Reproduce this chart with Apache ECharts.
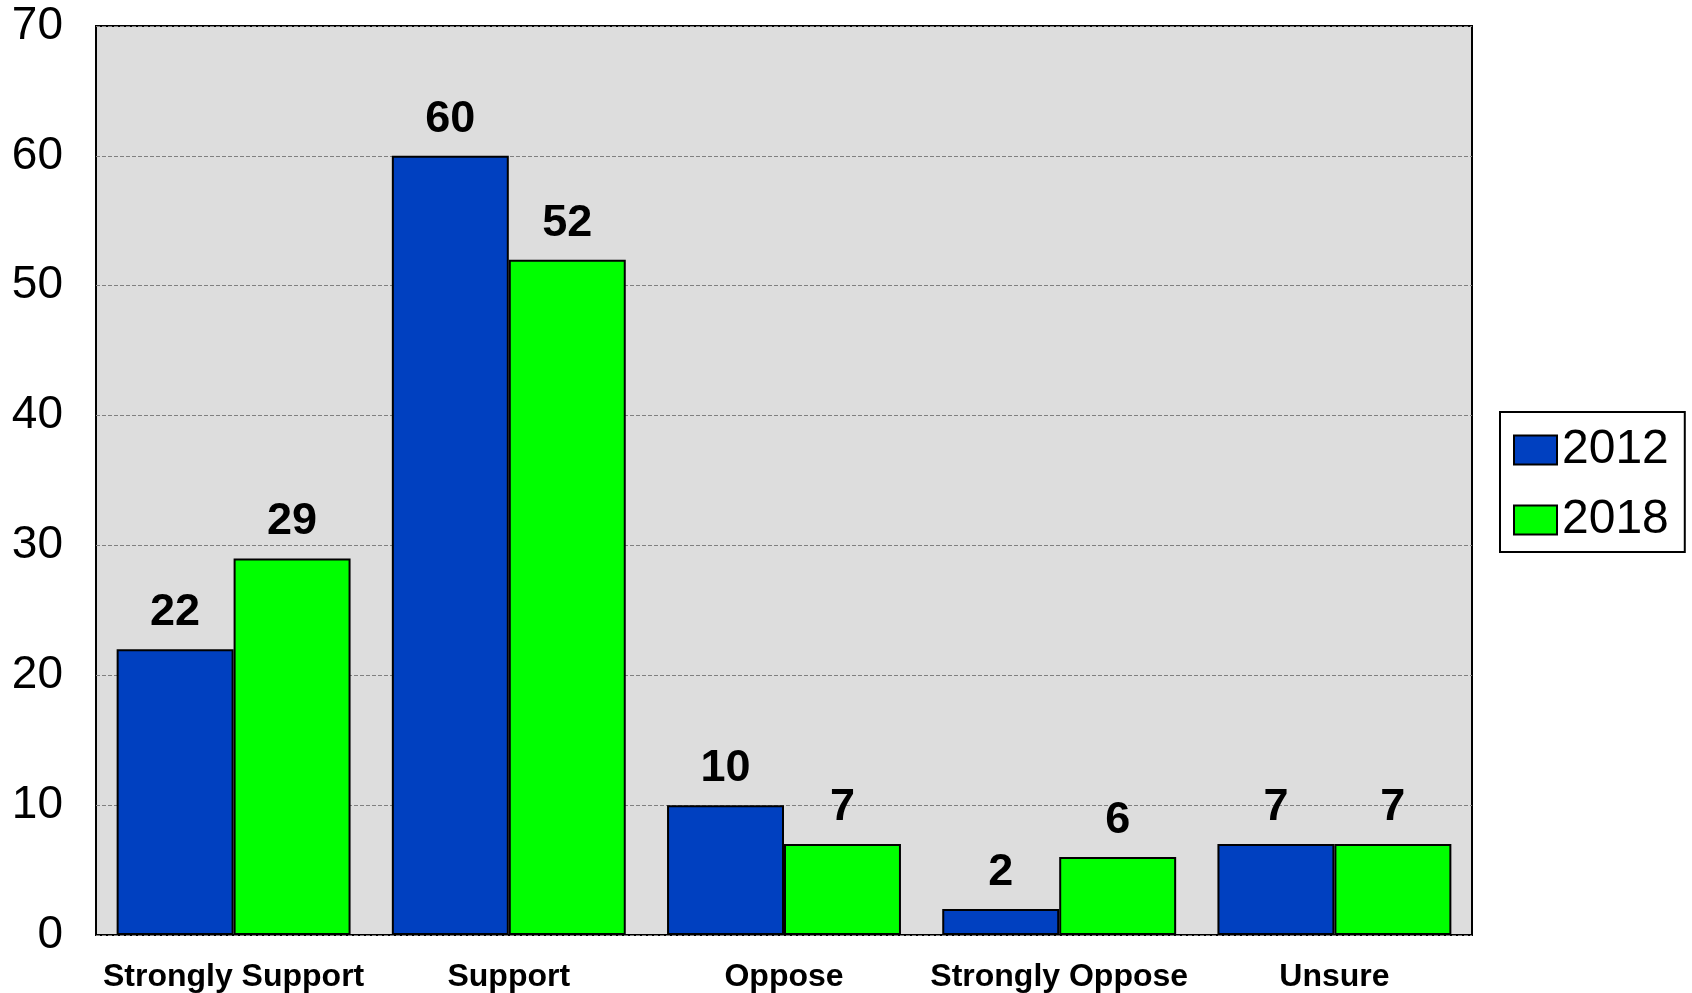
<!DOCTYPE html>
<html>
<head>
<meta charset="utf-8">
<script src="https://cdn.jsdelivr.net/npm/echarts@6/dist/echarts.min.js"></script>
<style>
html,body{margin:0;padding:0;background:#fff;}
#chart{width:1692px;height:993px;}
</style>
</head>
<body>
<div id="chart"></div>
<script>
const categories = ['Strongly Support', 'Support', 'Oppose', 'Strongly Oppose', 'Unsure'];
const values2012 = [22, 60, 10, 2, 7];
const values2018 = [29, 52, 7, 6, 7];
const seriesNames = ['2012', '2018'];
const yTicks = [0, 10, 20, 30, 40, 50, 60, 70];

const FONT = '"Liberation Sans", Arial, sans-serif';
const chart = echarts.init(document.getElementById('chart'), null, {renderer: 'canvas'});

const labelStyle = {
  show: true,
  position: 'top',
  distance: 14,
  fontFamily: FONT,
  fontWeight: 'bold',
  fontSize: 45,
  color: '#000'
};

chart.setOption({
  animation: false,
  backgroundColor: '#ffffff',
  grid: {
    left: 96, top: 26, right: 220, bottom: 55,
    show: true,
    backgroundColor: '#DDDDDD',
    borderColor: '#000',
    borderWidth: 2
  },
  legend: {
    orient: 'vertical',
    left: 1500,
    top: 412,
    padding: [14, 16, 8, 13],
    borderColor: '#000',
    borderWidth: 2,
    backgroundColor: '#fff',
    itemWidth: 43,
    itemHeight: 29,
    itemGap: 22,
    icon: 'rect',
    textStyle: {fontFamily: FONT, fontSize: 48, color: '#000', lineHeight: 48},
    data: seriesNames
  },
  xAxis: {
    type: 'category',
    data: categories,
    axisLine: {show: false},
    axisTick: {show: false},
    axisLabel: {
      interval: 0,
      fontFamily: FONT, fontWeight: 'bold', fontSize: 32, color: '#000', margin: 26
    }
  },
  yAxis: {
    type: 'value',
    min: yTicks[0],
    max: yTicks[yTicks.length - 1],
    interval: 10,
    axisLine: {show: false},
    axisTick: {show: false},
    axisLabel: {fontFamily: FONT, fontSize: 46, color: '#000', margin: 33},
    splitLine: {show: true, lineStyle: {color: '#808080', type: 'dashed', width: 1}}
  },
  series: [
    {
      name: seriesNames[0],
      type: 'bar',
      data: values2012,
      barGap: '0%',
      barCategoryGap: '15%',
      itemStyle: {color: '#0040C0', borderColor: '#000', borderWidth: 2},
      label: labelStyle
    },
    {
      name: seriesNames[1],
      type: 'bar',
      data: values2018,
      barGap: '0%',
      barCategoryGap: '15%',
      itemStyle: {color: '#00FF00', borderColor: '#000', borderWidth: 2},
      label: labelStyle
    }
  ]
});
</script>
</body>
</html>
